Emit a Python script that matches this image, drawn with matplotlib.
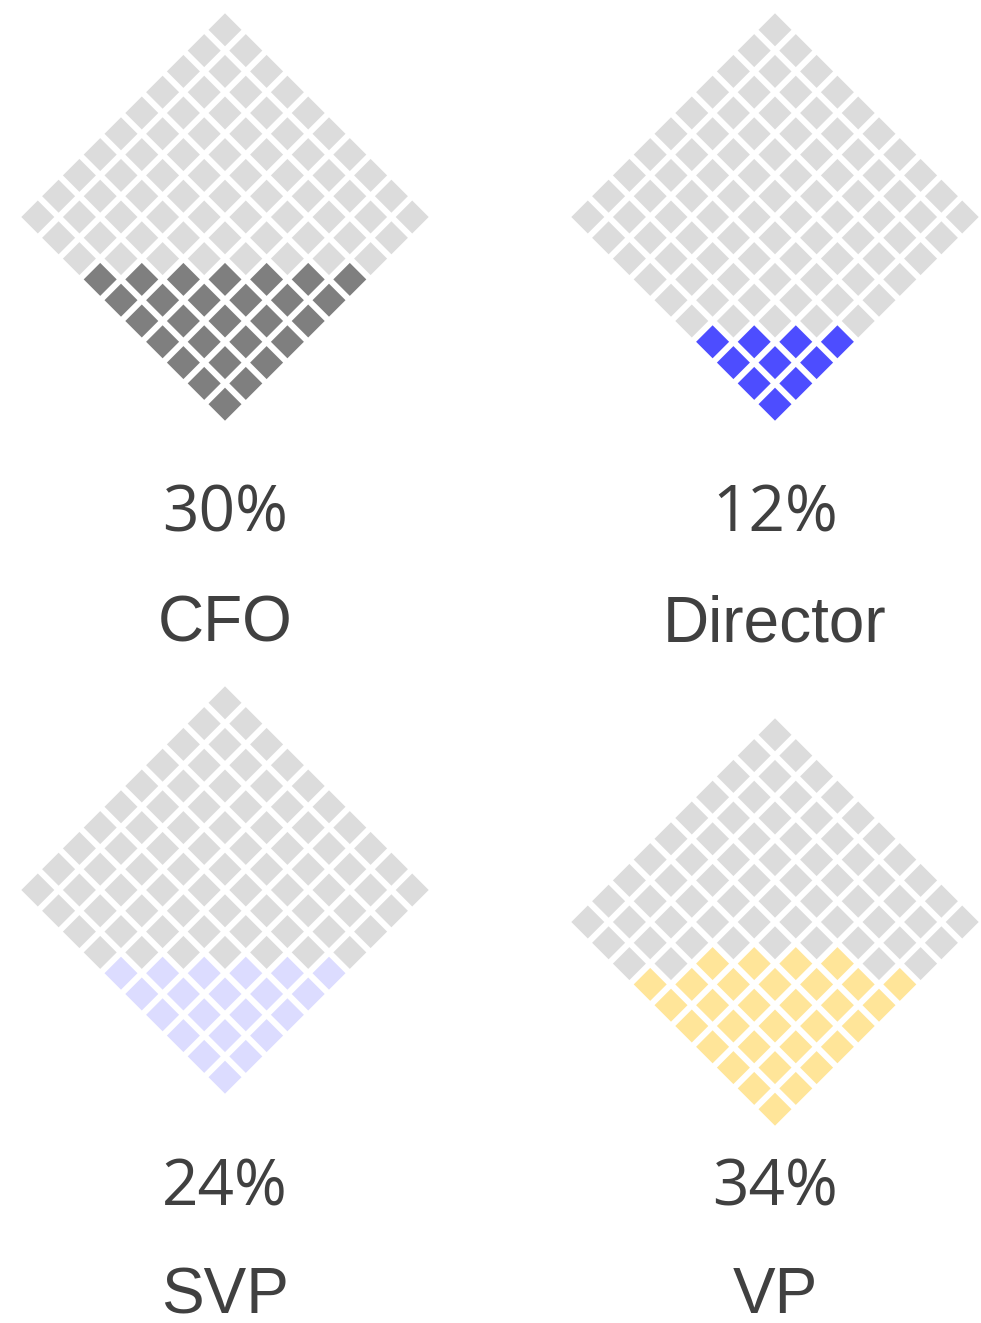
import numpy as np
import matplotlib
matplotlib.use("Agg")
import matplotlib.pyplot as plt
from matplotlib.patches import RegularPolygon

# data
roles = ["CFO", "Director", "SVP", "VP"]
percent = [30, 12, 24, 34]
filled_cells = [28, 10, 21, 32]   # coloured squares as drawn in the picture
colors = ["#7f7f7f", "#4d4dff", "#dcdcff", "#ffe599"]
empty_color = "#dcdcdc"
text_color = "#404040"

# layout (pixels)
W, H = 981, 1323
centers = [(225, 217), (775, 217), (225, 890), (775, 922)]
pct_y = [515, 515, 1188, 1188]
label_y = [625, 625, 1296, 1296]
n = 10
step = 20.8      # half of horizontal pitch
half_diag = 16.5

fig = plt.figure(figsize=(W / 100, H / 100), dpi=100)
ax = fig.add_axes([0, 0, 1, 1])
ax.set_xlim(0, W)
ax.set_ylim(H, 0)
ax.axis("off")


def fill_order():
    # bottom level first, center-out within each level
    cells = []
    for k in range(2 * n - 1):
        row = [(i, k - i) for i in range(n) if 0 <= k - i < n]
        row.sort(key=lambda c: abs(c[0] - c[1]))
        cells += row
    return cells


order = fill_order()

for r in range(len(roles)):
    cx, cy = centers[r]
    bottom = cy + (n - 1) * step
    on = set(order[:filled_cells[r]])
    for i in range(n):
        for j in range(n):
            x = cx + (i - j) * step
            y = bottom - (i + j) * step
            c = colors[r] if (i, j) in on else empty_color
            ax.add_patch(RegularPolygon((x, y), 4, radius=half_diag,
                                        orientation=0, facecolor=c,
                                        edgecolor="none"))
    ax.text(cx, pct_y[r], "{}%".format(percent[r]), ha="center", va="center",
            fontsize=46, color=text_color, family="Open Sans")
    ax.text(cx, label_y[r], roles[r], ha="center", va="center",
            fontsize=46, color=text_color, family="Liberation Sans")

fig.savefig("out.png", dpi=100)
